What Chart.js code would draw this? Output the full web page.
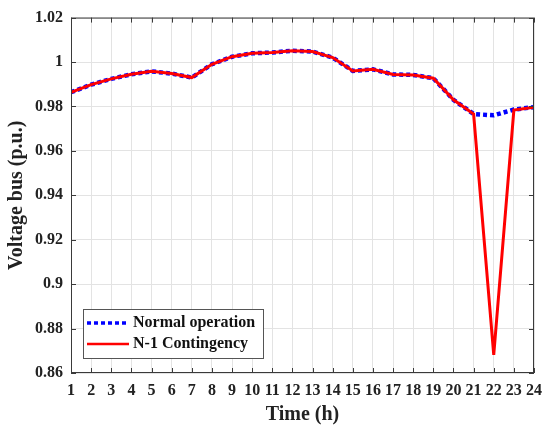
<!DOCTYPE html>
<html>
<head>
<meta charset="utf-8">
<script src="https://cdn.jsdelivr.net/npm/chart.js@4/dist/chart.umd.min.js"></script>
<style>
  html, body { margin: 0; padding: 0; background: #fff; }
  #wrap { width: 550px; height: 429px; }
</style>
</head>
<body>
<div id="wrap"><canvas id="voltChart" width="550" height="429"></canvas></div>
<script>
// values
const hours = [1, 2, 3, 4, 5, 6, 7, 8, 9, 10, 11, 12, 13, 14, 15, 16, 17, 18, 19, 20, 21, 22, 23, 24];
const normalOp = [0.9864, 0.9898, 0.9924, 0.9945, 0.9958, 0.9948, 0.9930, 0.9990, 1.0024, 1.0039, 1.0043, 1.0051,
                  1.0047, 1.0020, 0.9960, 0.9967, 0.9944, 0.9942, 0.9927, 0.9830, 0.9766, 0.9760, 0.9786, 0.9797];
const contingency = [0.9864, 0.9898, 0.9924, 0.9945, 0.9958, 0.9948, 0.9930, 0.9990, 1.0024, 1.0039, 1.0043, 1.0051,
                     1.0047, 1.0020, 0.9960, 0.9967, 0.9944, 0.9942, 0.9927, 0.9830, 0.9766, 0.8682, 0.9784, 0.9797];
const yTickValues = [0.86, 0.88, 0.90, 0.92, 0.94, 0.96, 0.98, 1.00, 1.02];
const yTickLabels = ['0.86', '0.88', '0.9', '0.92', '0.94', '0.96', '0.98', '1', '1.02'];
const seriesNames = ['Normal operation', 'N-1 Contingency'];

const fontFam = '"Liberation Serif", "DejaVu Serif", serif';
const boxColor = '#3a3a3a';

// box, inward ticks and the legend inside the plot (MATLAB look)
const frame = {
  id: 'frame',
  afterDatasetsDraw(chart) {
    const { ctx, chartArea: a, scales } = chart;
    ctx.save();
    ctx.strokeStyle = boxColor;
    ctx.lineWidth = 1;
    ctx.strokeRect(a.left + 0.5, a.top + 0.5, a.right - a.left - 1, a.bottom - a.top - 1);
    const tl = 5;
    ctx.beginPath();
    hours.forEach(h => {
      const px = Math.round(scales.x.getPixelForValue(h)) + 0.5;
      ctx.moveTo(px, a.bottom); ctx.lineTo(px, a.bottom - tl);
      ctx.moveTo(px, a.top); ctx.lineTo(px, a.top + tl);
    });
    yTickValues.forEach(v => {
      const py = Math.round(scales.y.getPixelForValue(v)) + 0.5;
      ctx.moveTo(a.left, py); ctx.lineTo(a.left + tl, py);
      ctx.moveTo(a.right, py); ctx.lineTo(a.right - tl, py);
    });
    ctx.stroke();

    // legend
    const lx = 83, ly = 309, lw = 180, lh = 49;
    ctx.fillStyle = '#fff';
    ctx.fillRect(lx, ly, lw, lh);
    ctx.strokeStyle = '#555';
    ctx.strokeRect(lx + 0.5, ly + 0.5, lw, lh);
    ctx.font = 'bold 16px ' + fontFam;
    ctx.textBaseline = 'middle';
    chart.data.datasets.forEach((ds, i) => {
      const yy = ly + 14 + i * 21;
      ctx.beginPath();
      ctx.strokeStyle = ds.borderColor;
      ctx.lineWidth = i === 0 ? 3.5 : 2.5;
      ctx.setLineDash(ds.borderDash || []);
      ctx.moveTo(lx + 4, yy); ctx.lineTo(lx + 46, yy);
      ctx.stroke();
      ctx.setLineDash([]);
      ctx.fillStyle = '#111';
      ctx.fillText(ds.label, lx + 50, yy);
    });
    ctx.restore();
  }
};

const chart = new Chart(document.getElementById('voltChart').getContext('2d'), {
  type: 'line',
  data: {
    datasets: [{
      label: seriesNames[0],
      data: hours.map((h, i) => ({ x: h, y: normalOp[i] })),
      borderColor: '#0000ff',
      borderWidth: 4.5,
      borderDash: [4, 3],
      pointRadius: 0,
      tension: 0,
      order: 2
    }, {
      label: seriesNames[1],
      data: hours.map((h, i) => ({ x: h, y: contingency[i] })),
      borderColor: '#ff0000',
      borderWidth: 3,
      pointRadius: 0,
      tension: 0,
      order: 1
    }]
  },
  options: {
    responsive: false,
    animation: false,
    layout: { padding: { top: 16, right: 15, left: 0, bottom: 0 } },
    plugins: { legend: { display: false }, tooltip: { enabled: false } },
    scales: {
      x: {
        type: 'linear', min: 1, max: 24,
        afterBuildTicks: s => { s.ticks = hours.map(h => ({ value: h })); },
        afterFit: s => { s.height = 56; },
        ticks: { font: { family: fontFam, size: 16, weight: 'bold' }, color: '#222', padding: 8, maxRotation: 0, autoSkip: false },
        grid: { color: '#e3e3e3', drawTicks: false },
        border: { display: false },
        title: { display: true, text: 'Time (h)', font: { family: fontFam, size: 20, weight: 'bold' }, color: '#222', padding: { top: 0, bottom: 2 } }
      },
      y: {
        min: 0.86, max: 1.02,
        afterBuildTicks: s => { s.ticks = yTickValues.map(v => ({ value: v })); },
        afterFit: s => { s.width = 71; },
        ticks: {
          font: { family: fontFam, size: 16, weight: 'bold' }, color: '#222', padding: 8,
          callback: v => yTickLabels[yTickValues.findIndex(t => Math.abs(t - v) < 1e-6)]
        },
        grid: { color: '#e3e3e3', drawTicks: false },
        border: { display: false },
        title: { display: true, text: 'Voltage bus (p.u.)', font: { family: fontFam, size: 20, weight: 'bold' }, color: '#222', padding: { top: 5, bottom: 0 } }
      }
    }
  },
  plugins: [frame]
});
</script>
</body>
</html>
